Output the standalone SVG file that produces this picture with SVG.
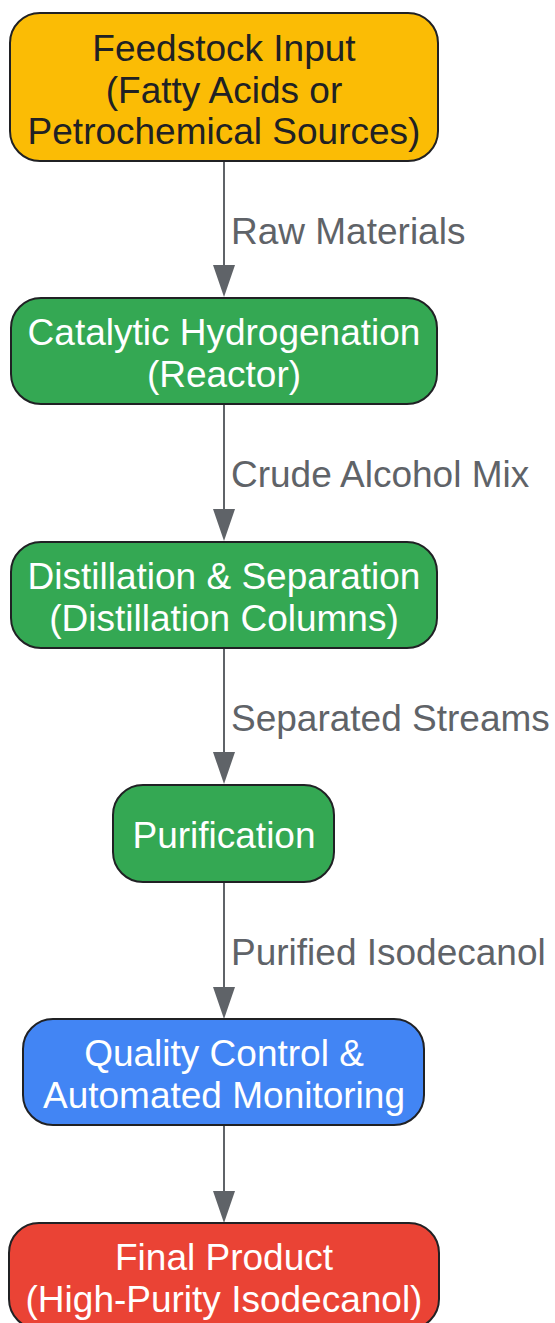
<svg xmlns="http://www.w3.org/2000/svg" width="555" height="1323" viewBox="0 0 555 1323">
<defs>
<style>
.node rect{stroke:#202124;stroke-width:2}
.t{font-family:"Liberation Sans",Arial,sans-serif;font-size:37px;text-anchor:middle}
.dark{fill:#202124}
.light{fill:#ffffff}
.lbl{font-family:"Liberation Sans",Arial,sans-serif;font-size:37px;fill:#5f6368}
.edge{stroke:#5f6368;stroke-width:2;fill:none}
.head{fill:#5f6368}
</style>
</defs>
<rect width="555" height="1323" fill="#ffffff"/>
<g id="connectors">
<path class="edge" d="M224,161 L224,266"/>
<path class="head" d="M213,265 L235,265 L224,297 Z"/>
<path class="edge" d="M224,404 L224,510"/>
<path class="head" d="M213,509 L235,509 L224,541 Z"/>
<path class="edge" d="M224,648 L224,753"/>
<path class="head" d="M213,752 L235,752 L224,784 Z"/>
<path class="edge" d="M224,882 L224,988"/>
<path class="head" d="M213,987 L235,987 L224,1019 Z"/>
<path class="edge" d="M224,1126 L224,1192"/>
<path class="head" d="M213,1191 L235,1191 L224,1223 Z"/>
<text class="lbl" x="231" y="244">Raw Materials</text>
<text class="lbl" x="231" y="487">Crude Alcohol Mix</text>
<text class="lbl" x="231" y="731">Separated Streams</text>
<text class="lbl" x="231" y="965">Purified Isodecanol</text>
</g>
<g id="feedstock" class="node">
<rect x="10" y="13" width="428" height="148" rx="30" fill="#FBBC05"/>
<text class="t dark" x="224" y="61">Feedstock Input</text>
<text class="t dark" x="224" y="102.5">(Fatty Acids or</text>
<text class="t dark" x="224" y="144">Petrochemical Sources)</text>
</g>
<g id="hydrogenation" class="node">
<rect x="11" y="298" width="426" height="106" rx="30" fill="#34A853"/>
<text class="t light" x="224" y="345">Catalytic Hydrogenation</text>
<text class="t light" x="224" y="387">(Reactor)</text>
</g>
<g id="distillation" class="node">
<rect x="11" y="542" width="426" height="106" rx="30" fill="#34A853"/>
<text class="t light" x="224" y="589">Distillation &amp; Separation</text>
<text class="t light" x="224" y="631">(Distillation Columns)</text>
</g>
<g id="purification" class="node">
<rect x="113" y="785" width="221" height="97" rx="30" fill="#34A853"/>
<text class="t light" x="224" y="848">Purification</text>
</g>
<g id="quality" class="node">
<rect x="23" y="1019" width="401" height="106" rx="30" fill="#4285F4"/>
<text class="t light" x="224" y="1066">Quality Control &amp;</text>
<text class="t light" x="224" y="1108">Automated Monitoring</text>
</g>
<g id="final" class="node">
<rect x="9" y="1223" width="430" height="106" rx="30" fill="#EA4335"/>
<text class="t light" x="224" y="1270">Final Product</text>
<text class="t light" x="224" y="1312">(High-Purity Isodecanol)</text>
</g>
</svg>
